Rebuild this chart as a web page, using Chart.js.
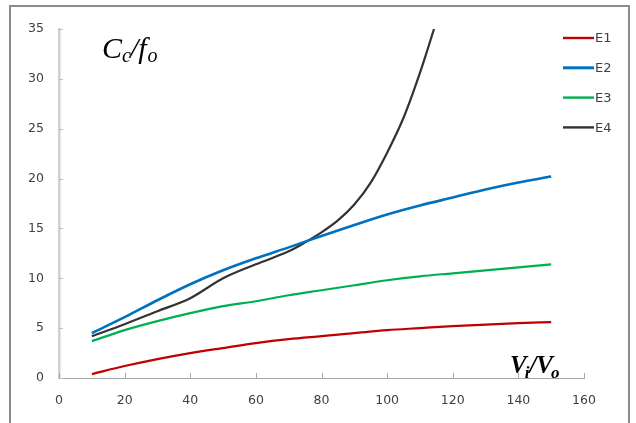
<!DOCTYPE html>
<html>
<head>
<meta charset="utf-8">
<script src="https://cdn.jsdelivr.net/npm/chart.js@4.4.1/dist/chart.umd.min.js"></script>
<style>
  html, body { margin: 0; padding: 0; background: #ffffff; }
  #wrap { position: relative; width: 636px; height: 423px; }
</style>
</head>
<body>
<div id="wrap"><canvas id="c" width="636" height="423"></canvas></div>
<script>
// ---- data ----
const seriesNames = ['E1', 'E2', 'E3', 'E4'];
const seriesColors = ['#c00000', '#0070c0', '#00b050', '#333333'];

const ratioX = [10, 20, 30, 40, 50, 60, 70, 80, 90, 100, 110, 120, 130, 140, 150];
const e1 = [0.4, 1.2, 1.9, 2.5, 3.0, 3.5, 3.9, 4.2, 4.5, 4.8, 5.0, 5.2, 5.35, 5.5, 5.6];
const e2 = [4.5, 6.1, 7.8, 9.4, 10.8, 12.0, 13.1, 14.25, 15.35, 16.4, 17.3, 18.1, 18.9, 19.6, 20.2];
const e3 = [3.7, 4.8, 5.7, 6.5, 7.2, 7.7, 8.3, 8.8, 9.3, 9.8, 10.2, 10.5, 10.8, 11.1, 11.4];

const e4X = [10, 20, 30, 40, 50, 60, 70, 75, 80, 85, 90, 95, 100, 105, 110, 114.3];
const e4 = [4.2, 5.4, 6.7, 8.0, 10.0, 11.4, 12.7, 13.6, 14.6, 15.8, 17.4, 19.6, 22.6, 26.1, 30.6, 35.0];

const xTicks = [0, 20, 40, 60, 80, 100, 120, 140, 160];
const yTicks = [0, 5, 10, 15, 20, 25, 30, 35];

// ---- build datasets ----
function pts(xs, ys) { return xs.map((x, i) => ({ x: x, y: ys[i] })); }
const seriesPoints = [pts(ratioX, e1), pts(ratioX, e2), pts(ratioX, e3), pts(e4X, e4)];
const widths = [2.2, 2.6, 2.2, 2.2];

const datasets = seriesNames.map((name, i) => ({
  label: name,
  data: seriesPoints[i],
  borderColor: seriesColors[i],
  backgroundColor: seriesColors[i],
  borderWidth: widths[i],
  pointRadius: 0,
  showLine: true,
  fill: false,
  cubicInterpolationMode: 'monotone'
}));

const decor = {
  id: 'decor',
  beforeDraw(chart) {
    const ctx = chart.ctx;
    ctx.save();
    ctx.fillStyle = '#ffffff';
    ctx.fillRect(0, 0, chart.width, chart.height);
    ctx.strokeStyle = '#8c8c8c';
    ctx.lineWidth = 2;
    ctx.strokeRect(10, 6, 619, 440);
    ctx.restore();
  },
  afterDraw(chart) {
    const ctx = chart.ctx;
    const xs = chart.scales.x, ys = chart.scales.y;
    ctx.save();
    // inward tick marks
    ctx.lineWidth = 1;
    ctx.strokeStyle = '#a6a6a6';
    xTicks.forEach(v => {
      const px = Math.round(xs.getPixelForValue(v)) + 0.5;
      ctx.beginPath();
      ctx.moveTo(px, ys.bottom);
      ctx.lineTo(px, ys.bottom - 5);
      ctx.stroke();
    });
    ctx.strokeStyle = '#bfbfbf';
    yTicks.forEach(v => {
      const py = Math.round(ys.getPixelForValue(v)) + 0.5;
      ctx.beginPath();
      ctx.moveTo(xs.left, py);
      ctx.lineTo(xs.left + 4, py);
      ctx.stroke();
    });

    // legend
    const lx0 = 563, lx1 = 594, ly0 = 38, lstep = 29.8;
    seriesNames.forEach((name, i) => {
      const y = ly0 + i * lstep;
      ctx.strokeStyle = seriesColors[i];
      ctx.lineWidth = i === 1 ? 3 : 2.4;
      ctx.beginPath();
      ctx.moveTo(lx0, y);
      ctx.lineTo(lx1, y);
      ctx.stroke();
      ctx.fillStyle = '#404040';
      ctx.font = '13px "DejaVu Sans"';
      ctx.textBaseline = 'middle';
      ctx.textAlign = 'left';
      ctx.fillText(name, lx1 + 1, y + 1);
    });

    // y-axis annotation  C_c / f_o
    ctx.fillStyle = '#000000';
    ctx.textBaseline = 'alphabetic';
    let x = 102, base = 58;
    ctx.font = 'italic 30px "Liberation Serif"';
    ctx.fillText('C', x, base); x += ctx.measureText('C').width;
    ctx.font = 'italic 20px "Liberation Serif"';
    ctx.fillText('c', x, base + 4); x += ctx.measureText('c').width - 1;
    ctx.font = 'italic 30px "Liberation Serif"';
    ctx.fillText('/', x, base); x += ctx.measureText('/').width;
    ctx.fillText('f', x, base); x += ctx.measureText('f').width + 1;
    ctx.font = 'italic 20px "Liberation Serif"';
    ctx.fillText('o', x, base + 4);

    // x-axis annotation  V_i / V_o
    x = 510; base = 373;
    ctx.font = 'bold italic 25px "Liberation Serif"';
    ctx.fillText('V', x, base); x += ctx.measureText('V').width - 2;
    ctx.font = 'bold italic 17px "Liberation Serif"';
    ctx.fillText('i', x, base + 5); x += ctx.measureText('i').width;
    ctx.font = 'bold italic 25px "Liberation Serif"';
    ctx.fillText('/', x, base); x += ctx.measureText('/').width;
    ctx.fillText('V', x, base); x += ctx.measureText('V').width - 2;
    ctx.font = 'bold italic 17px "Liberation Serif"';
    ctx.fillText('o', x, base + 5);
    ctx.restore();
  }
};

new Chart(document.getElementById('c'), {
  type: 'scatter',
  data: { datasets: datasets },
  plugins: [decor],
  options: {
    responsive: false,
    animation: false,
    layout: { padding: { left: 0, top: 29, right: 52, bottom: 0 } },
    plugins: { legend: { display: false }, tooltip: { enabled: false } },
    scales: {
      x: {
        type: 'linear',
        min: xTicks[0],
        max: xTicks[xTicks.length - 1],
        afterBuildTicks(scale) { scale.ticks = xTicks.map(v => ({ value: v })); },
        afterFit(scale) { scale.height = 45; },
        grid: { drawOnChartArea: false, drawTicks: false, color: '#a6a6a6', lineWidth: 1 },
        border: { display: true, color: '#a6a6a6', width: 1 },
        ticks: { color: '#404040', font: { family: 'DejaVu Sans', size: 12.5 }, padding: 15, maxRotation: 0 }
      },
      y: {
        type: 'linear',
        min: yTicks[0],
        max: yTicks[yTicks.length - 1],
        afterBuildTicks(scale) { scale.ticks = yTicks.map(v => ({ value: v })); },
        afterFit(scale) { scale.width = 59; },
        grid: { drawOnChartArea: false, drawTicks: false, color: '#bfbfbf', lineWidth: 1 },
        border: { display: true, color: '#d0d0d0', width: 2.5 },
        ticks: { color: '#404040', font: { family: 'DejaVu Sans', size: 12.5 }, padding: 15 }
      }
    }
  }
});
</script>
</body>
</html>
